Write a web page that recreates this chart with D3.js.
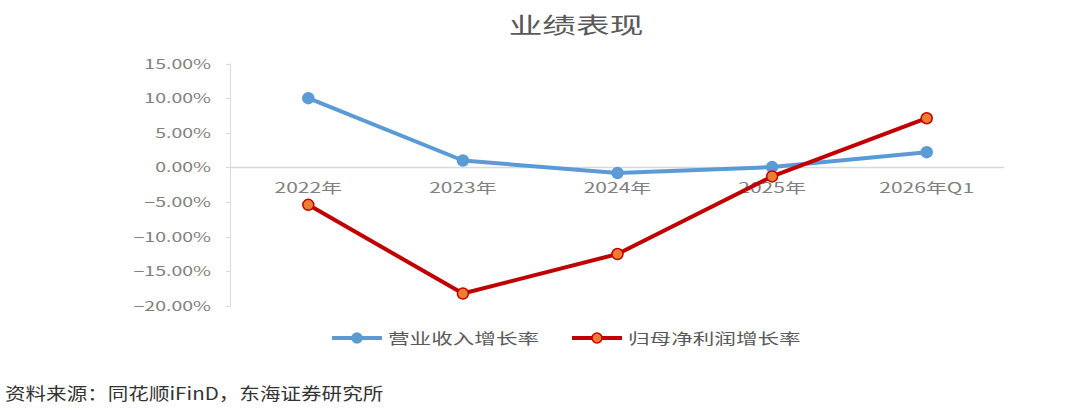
<!DOCTYPE html>
<html>
<head>
<meta charset="utf-8">
<title>业绩表现</title>
<script src="https://cdn.jsdelivr.net/npm/d3@7"></script>
<style>
  body { margin: 0; background: #fff; }
  svg text { font-family: "Noto Sans CJK SC", "Noto Sans", sans-serif; }
</style>
</head>
<body>
<svg id="chart" width="1080" height="413"></svg>
<script>
// data
var categories = ["2022年", "2023年", "2024年", "2025年", "2026年Q1"];
var revenueGrowth = [10.0, 1.0, -0.8, 0.05, 2.2];      // 营业收入增长率 (%)
var profitGrowth = [-5.4, -18.2, -12.5, -1.3, 7.1];    // 归母净利润增长率 (%)
var yTicks = [15, 10, 5, 0, -5, -10, -15, -20];
var seriesNames = ["营业收入增长率", "归母净利润增长率"];

var svg = d3.select("#chart");
var sx = 1.5; // the source image is stretched sideways, so is its text

var x = d3.scaleBand().domain(categories).range([231, 1004]);
var y = d3.scaleLinear().domain([-20, 15]).range([306, 63.5]);

function stretchText(g, px, py, str, opts) {
    return g.append("text")
        .attr("transform", "translate(" + px + "," + py + ") scale(" + (opts.sx || sx) + ",1)")
        .attr("text-anchor", opts.anchor || "start")
        .attr("font-size", opts.size)
        .attr("fill", opts.fill)
        .text(str);
}

// title
stretchText(svg, 576, 33, "业绩表现", {anchor: "middle", size: 22, fill: "#595959", sx: 1.53});

// y axis
var yAxis = svg.append("g").attr("class", "y-axis");
yAxis.append("line")
    .attr("x1", 230.5).attr("x2", 230.5)
    .attr("y1", y(15)).attr("y2", y(-20))
    .attr("stroke", "#d9d9d9").attr("stroke-width", 1);
yTicks.forEach(function (t) {
    yAxis.append("line")
        .attr("x1", 226).attr("x2", 230.5)
        .attr("y1", Math.round(y(t)) + 0.5).attr("y2", Math.round(y(t)) + 0.5)
        .attr("stroke", "#d9d9d9");
    stretchText(yAxis, 211, y(t) + 5, d3.format(".2f")(t) + "%", {anchor: "end", size: 13, fill: "#7f7f7f"});
});

// zero line
svg.append("line")
    .attr("x1", 230.5).attr("x2", x.range()[1])
    .attr("y1", Math.round(y(0)) + 0.5).attr("y2", Math.round(y(0)) + 0.5)
    .attr("stroke", "#d9d9d9").attr("stroke-width", 1.5);

// category labels
categories.forEach(function (c) {
    stretchText(svg, x(c) + x.bandwidth() / 2, 193, c, {anchor: "middle", size: 14, fill: "#7f7f7f"});
});

var line = d3.line()
    .x(function (d, i) { return x(categories[i]) + x.bandwidth() / 2; })
    .y(function (d) { return y(d); });

var series = [
    {name: seriesNames[0], values: revenueGrowth, stroke: "#5b9bd5", fill: "#5b9bd5", mstroke: "#5b9bd5"},
    {name: seriesNames[1], values: profitGrowth, stroke: "#c00000", fill: "#ed7d31", mstroke: "#c00000"}
];

series.forEach(function (s) {
    svg.append("path")
        .datum(s.values)
        .attr("d", line)
        .attr("fill", "none")
        .attr("stroke", s.stroke)
        .attr("stroke-width", 4)
        .attr("stroke-linejoin", "round");
    svg.selectAll(null)
        .data(s.values)
        .enter()
        .append("circle")
        .attr("cx", function (d, i) { return x(categories[i]) + x.bandwidth() / 2; })
        .attr("cy", function (d) { return y(d); })
        .attr("r", 5.5)
        .attr("fill", s.fill)
        .attr("stroke", s.mstroke)
        .attr("stroke-width", 1.5);
});

// legend
var legendX = [332, 572];
series.forEach(function (s, i) {
    var g = svg.append("g");
    g.append("line")
        .attr("x1", legendX[i]).attr("x2", legendX[i] + 50)
        .attr("y1", 338).attr("y2", 338)
        .attr("stroke", s.stroke).attr("stroke-width", 4);
    g.append("circle")
        .attr("cx", legendX[i] + 25).attr("cy", 338).attr("r", 5)
        .attr("fill", s.fill).attr("stroke", s.mstroke).attr("stroke-width", 1.5);
    stretchText(g, legendX[i] + 56, 344, s.name, {size: 15, fill: "#595959", sx: 1.44});
});

// source note
stretchText(svg, 5, 400, "资料来源：同花顺iFinD，东海证券研究所", {size: 17, fill: "#333333", sx: 1.21});
</script>
</body>
</html>
